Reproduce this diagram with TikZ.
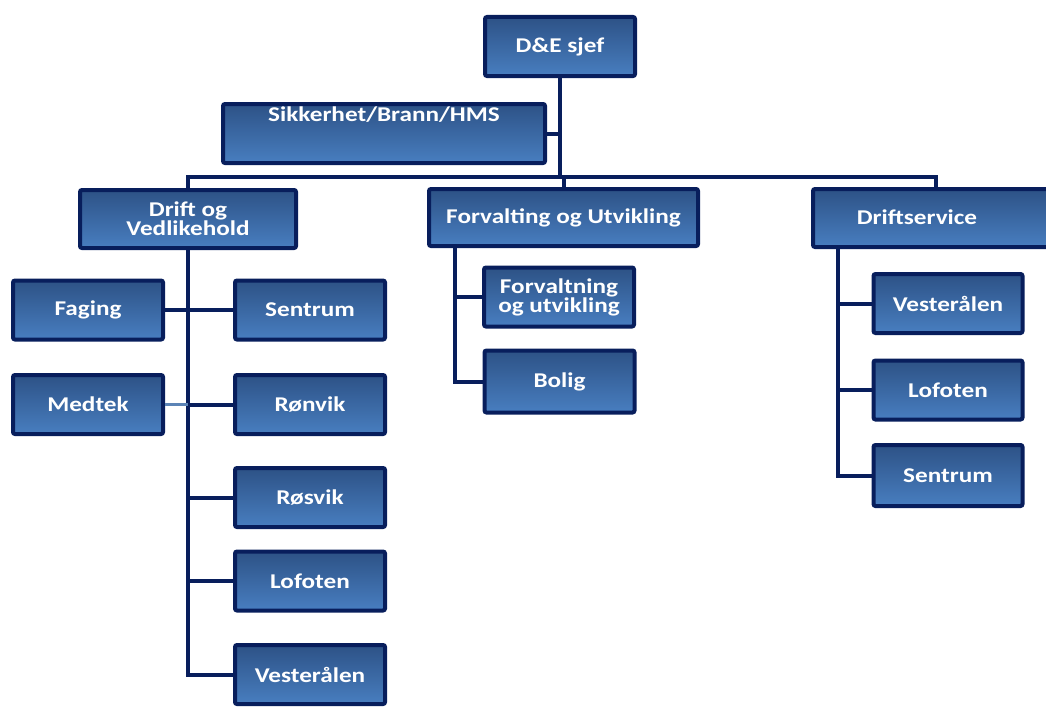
\documentclass[tikz,border=0pt]{standalone}
\usepackage{fontspec}
\setmainfont{Carlito}[FakeStretch=1.2]
\definecolor{unittop}{RGB}{45,82,134}
\definecolor{unitbottom}{RGB}{72,126,192}
\definecolor{navy}{RGB}{8,30,92}
\definecolor{lightlink}{RGB}{92,132,182}
\tikzset{
unit/.style 2 args={
	  draw=navy, line width=4pt, rounded corners=2pt,
	    top color=unittop, bottom color=unitbottom,
    minimum width=#1pt, minimum height=#2pt, inner sep=2pt,
    text=white, font=\fontsize{21}{19}\selectfont\bfseries, align=center},
unittext/.style={text=white, font=\fontsize{21}{19}\selectfont\bfseries},
link/.style={draw=navy, line width=4pt},
lightlink/.style={draw=lightlink, line width=3pt}
}

\begin{document}
\begin{tikzpicture}[x=1pt, y=-1pt]
	\useasboundingbox (0,0) rectangle (1046,709);
	\clip (0,0) rectangle (1046,709);
	% top level
	\node[unit={150}{59}] (boss) at (560,46.5) {D\&E sjef};
	\node[unit={322}{59}] (hms) at (384,133.5) {};
	\node[unittext] (hmstxt) at (384,115) {Sikkerhet/Brann/HMS};
	\coordinate (bar) at (562,177);
	% second level
	\node[unit={216}{58}] (drift) at (188,219) {Drift og\\Vedlikehold};
	\node[unit={269}{57}] (forv) at (563.5,217.5) {Forvalting og Utvikling};
	\node[unit={245}{58}] (dsrv) at (935.5,218) {};
	\node[unittext] (dsrvtxt) at (917,217) {Driftservice};
	% drift og vedlikehold
	\node[unit={150}{59}] (faging) at (88,310) {Faging};
	\node[unit={150}{59}] (medtek) at (88,404.5) {Medtek};
	\node[unit={150}{59}] (dsentrum) at (310,310) {Sentrum};
	\node[unit={150}{59}] (dronvik) at (310,404.5) {Rønvik};
	\node[unit={150}{59}] (drosvik) at (310,497.5) {Røsvik};
	\node[unit={150}{59}] (dlofoten) at (310,581) {Lofoten};
	\node[unit={150}{59}] (dvesteraalen) at (310,674.5) {Vesterålen};
	% forvalting og utvikling
	\node[unit={150}{59}] (fou) at (559,297) {Forvaltning\\og utvikling};
	\node[unit={150}{62}] (bolig) at (559.5,381.5) {Bolig};
	% driftservice
	\node[unit={149}{59}] (svesteraalen) at (948,303.5) {Vesterålen};
	\node[unit={149}{59}] (slofoten) at (948,390) {Lofoten};
	\node[unit={149}{61}] (ssentrum) at (948,475.5) {Sentrum};
	\coordinate (ftrunk) at (455,248);
	\coordinate (strunk) at (838,249);

	% connectors
	\draw[link] (boss.south) -- (boss.south |- bar);
	\draw[link] (hms.east) -- (hms.east -| boss.south);
	\draw[link] (drift.north) |- (bar) -| (dsrv.north);
	\draw[link] (bar -| forv.north) -- (forv.north);
	\draw[link] (drift.south) |- (dvesteraalen.west);
	\foreach \n in {dsentrum, dronvik, drosvik, dlofoten}
		\draw[link] (drift.south |- \n.west) -- (\n.west);
	\draw[link] (faging.east) -- (dsentrum.west);
	\draw[lightlink] (medtek.east) -- (medtek.east -| drift.south);
	\draw[link] (ftrunk) |- (bolig.west);
	\draw[link] (ftrunk |- fou.west) -- (fou.west);
	\draw[link] (strunk) |- (ssentrum.west);
	\foreach \n in {svesteraalen, slofoten}
		\draw[link] (strunk |- \n.west) -- (\n.west);
\end{tikzpicture}
\end{document}
